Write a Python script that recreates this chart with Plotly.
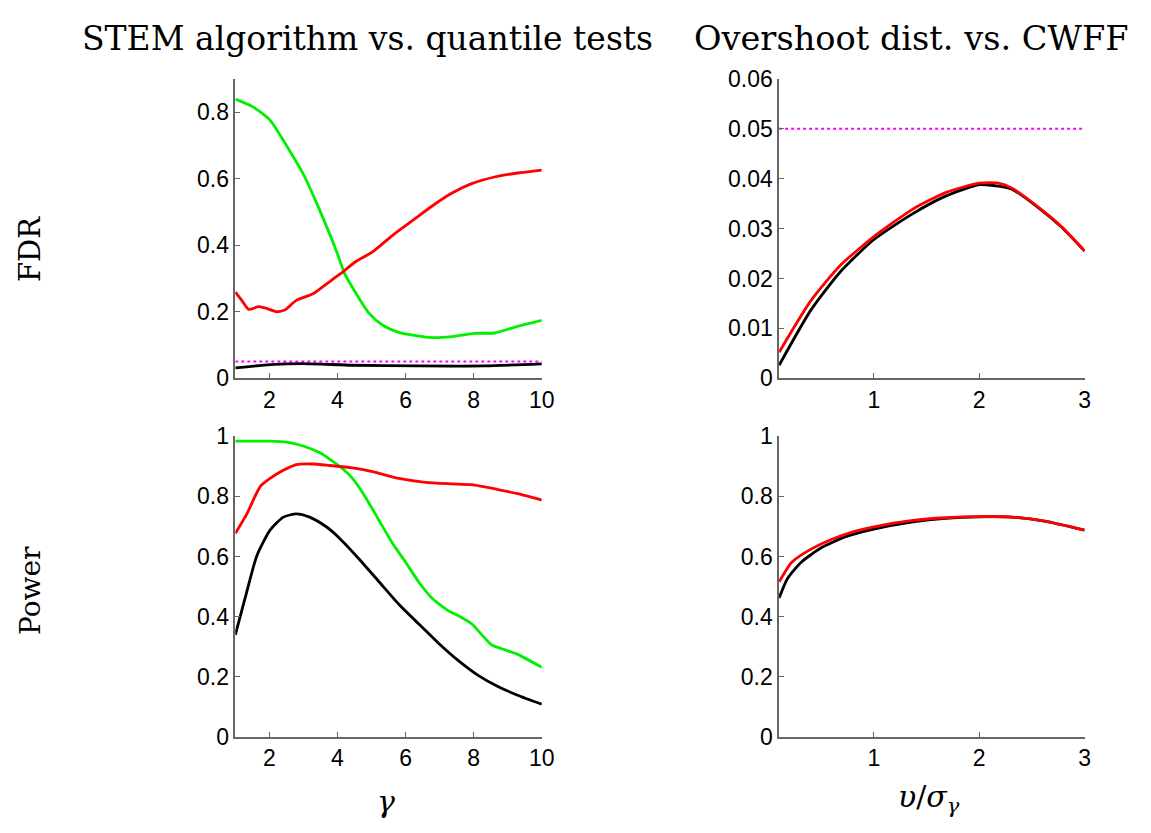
import plotly.graph_objects as go

# ---------------- data ----------------
# Top-left: FDR vs gamma
g_green_fdr = [1.0, 1.53, 2.02, 2.5, 2.99, 3.47, 3.96, 4.2, 4.44, 4.93, 5.32, 5.8, 6.3, 6.77, 7.35, 8.03, 8.61, 9.29, 10.0]
v_green_fdr = [0.839, 0.815, 0.776, 0.70, 0.615, 0.507, 0.385, 0.317, 0.273, 0.195, 0.160, 0.138, 0.128, 0.122, 0.125, 0.135, 0.136, 0.156, 0.174]
g_red_fdr = [1.0, 1.19, 1.39, 1.68, 1.92, 2.21, 2.45, 2.79, 3.28, 3.67, 4.06, 4.54, 5.03, 5.61, 6.19, 6.77, 7.35, 7.94, 8.61, 9.29, 10.0]
v_red_fdr = [0.259, 0.234, 0.207, 0.215, 0.21, 0.2, 0.205, 0.234, 0.254, 0.283, 0.312, 0.351, 0.38, 0.429, 0.473, 0.517, 0.556, 0.585, 0.605, 0.617, 0.626]
g_black_fdr = [1.0, 2.02, 2.99, 4.44, 6.38, 8.32, 10.0]
v_black_fdr = [0.031, 0.041, 0.044, 0.039, 0.037, 0.037, 0.043]
fdr_level = 0.05

# Top-right: FDR vs v/sigma
u_red_fdr = [0.1, 0.4, 0.68, 1.0, 1.37, 1.68, 2.0, 2.18, 2.31, 2.56, 2.78, 3.0]
w_red_fdr = [0.0052, 0.0155, 0.0226, 0.0284, 0.0339, 0.0372, 0.0391, 0.0391, 0.0381, 0.0343, 0.0304, 0.0255]
u_black_fdr = [0.1, 0.4, 0.68, 1.0, 1.37, 1.68, 2.0, 2.18, 2.31, 2.56, 2.78, 3.0]
w_black_fdr = [0.0026, 0.0136, 0.0213, 0.0278, 0.033, 0.0365, 0.0388, 0.0385, 0.0379, 0.0342, 0.0303, 0.0255]

# Bottom-left: Power vs gamma
g_green_pow = [1.0, 2.02, 2.5, 2.99, 3.47, 3.76, 4.15, 4.44, 4.83, 5.22, 5.61, 6.0, 6.38, 6.77, 7.26, 7.55, 7.94, 8.52, 8.9, 9.29, 10.0]
v_green_pow = [0.984, 0.984, 0.981, 0.968, 0.946, 0.925, 0.892, 0.86, 0.796, 0.72, 0.645, 0.581, 0.516, 0.462, 0.419, 0.403, 0.376, 0.306, 0.29, 0.274, 0.231]
g_red_pow = [1.0, 1.34, 1.73, 2.02, 2.41, 2.79, 3.28, 3.76, 4.44, 5.12, 5.8, 6.58, 7.35, 7.94, 8.71, 9.29, 10.0]
v_red_pow = [0.677, 0.742, 0.833, 0.86, 0.887, 0.906, 0.908, 0.903, 0.895, 0.88, 0.86, 0.847, 0.842, 0.839, 0.823, 0.809, 0.788]
g_black_pow = [1.0, 1.34, 1.63, 2.02, 2.41, 2.79, 3.18, 3.67, 4.06, 4.64, 5.22, 5.8, 6.38, 6.96, 7.55, 8.13, 8.71, 9.29, 10.0]
v_black_pow = [0.339, 0.484, 0.602, 0.688, 0.731, 0.742, 0.731, 0.699, 0.661, 0.591, 0.516, 0.441, 0.376, 0.312, 0.253, 0.204, 0.167, 0.138, 0.108]

# Bottom-right: Power vs v/sigma
u_red_pow = [0.1, 0.22, 0.37, 0.59, 0.81, 1.0, 1.37, 1.68, 2.0, 2.31, 2.62, 3.0]
w_red_pow = [0.516, 0.581, 0.618, 0.656, 0.683, 0.699, 0.72, 0.729, 0.733, 0.731, 0.718, 0.688]
u_black_pow = [0.1, 0.18, 0.31, 0.5, 0.74, 1.0, 1.37, 1.68, 2.0, 2.31, 2.62, 3.0]
w_black_pow = [0.462, 0.527, 0.581, 0.629, 0.667, 0.691, 0.715, 0.727, 0.732, 0.731, 0.718, 0.688]

gamma_range = [1, 10]
ratio_range = [0.1, 3]
gamma_ticks = [2, 4, 6, 8, 10]
ratio_ticks = [1, 2, 3]
fdr_left_ticks = [0, 0.2, 0.4, 0.6, 0.8]
fdr_right_ticks = [0, 0.01, 0.02, 0.03, 0.04, 0.05, 0.06]
pow_ticks = [0, 0.2, 0.4, 0.6, 0.8, 1]

titles = ["STEM algorithm vs. quantile tests", "Overshoot dist. vs. CWFF"]
row_labels = ["FDR", "Power"]

# ---------------- figure ----------------
W, H = 1151, 833
GREEN, RED, BLACK, MAG = "#00f000", "#ff0000", "#000000", "#ff00ff"
LW = 2.8

fig = go.Figure()

def line(x, y, color, xa, ya, dash="solid", width=LW):
    fig.add_trace(go.Scatter(x=x, y=y, mode="lines", xaxis=xa, yaxis=ya,
                             line=dict(color=color, width=width, dash=dash, shape="spline", smoothing=0.6),
                             showlegend=False, hoverinfo="skip"))

# top-left (x, y)
line(gamma_range, [fdr_level, fdr_level], MAG, "x", "y", dash="dot", width=2)
line(g_black_fdr, v_black_fdr, BLACK, "x", "y")
line(g_green_fdr, v_green_fdr, GREEN, "x", "y")
line(g_red_fdr, v_red_fdr, RED, "x", "y")
# top-right (x2, y2)
line(ratio_range, [fdr_level, fdr_level], MAG, "x2", "y2", dash="dot", width=2)
line(u_black_fdr, w_black_fdr, BLACK, "x2", "y2")
line(u_red_fdr, w_red_fdr, RED, "x2", "y2")
# bottom-left (x3, y3)
line(g_black_pow, v_black_pow, BLACK, "x3", "y3")
line(g_green_pow, v_green_pow, GREEN, "x3", "y3")
line(g_red_pow, v_red_pow, RED, "x3", "y3")
# bottom-right (x4, y4)
line(u_black_pow, w_black_pow, BLACK, "x4", "y4")
line(u_red_pow, w_red_pow, RED, "x4", "y4")

def px_x(a, b):
    return [a / W, b / W]

def px_y(top, bottom):
    return [1 - bottom / H, 1 - top / H]

xl = px_x(238, 548)
xr = px_x(788, 1097)
yt = px_y(68, 377)
yb = px_y(437, 747)

TICKFONT = dict(family="Liberation Sans, Arial, sans-serif", size=23, color="#000")
axcommon = dict(showline=True, linecolor="#666", linewidth=1.5, ticks="inside",
                ticklen=5, tickcolor="#666", tickwidth=1.2, showgrid=False,
                zeroline=False, tickfont=TICKFONT, fixedrange=True)

fig.update_layout(
    width=W, height=H, autosize=False,
    margin=dict(l=0, r=0, t=0, b=0, pad=0),
    paper_bgcolor="white", plot_bgcolor="white",
    xaxis=dict(domain=xl, anchor="y", range=gamma_range, tickvals=gamma_ticks, **axcommon),
    yaxis=dict(domain=yt, anchor="x", range=[0, 0.9], tickvals=fdr_left_ticks,
               ticktext=[("%g" % v) for v in fdr_left_ticks], **axcommon),
    xaxis2=dict(domain=xr, anchor="y2", range=ratio_range, tickvals=ratio_ticks, **axcommon),
    yaxis2=dict(domain=yt, anchor="x2", range=[0, 0.06], tickvals=fdr_right_ticks,
                ticktext=[("%g" % v) for v in fdr_right_ticks], **axcommon),
    xaxis3=dict(domain=xl, anchor="y3", range=gamma_range, tickvals=gamma_ticks, **axcommon),
    yaxis3=dict(domain=yb, anchor="x3", range=[0, 1], tickvals=pow_ticks,
                ticktext=[("%g" % v) for v in pow_ticks], **axcommon),
    xaxis4=dict(domain=xr, anchor="y4", range=ratio_range, tickvals=ratio_ticks, **axcommon),
    yaxis4=dict(domain=yb, anchor="x4", range=[0, 1], tickvals=pow_ticks,
                ticktext=[("%g" % v) for v in pow_ticks], **axcommon),
)

SERIF = "DejaVu Serif, Liberation Serif, serif"

def label(text, x, y, size, angle=0):
    return dict(text=text, x=x / W, y=1 - y / H, xref="paper", yref="paper",
                showarrow=False, textangle=angle,
                font=dict(family=SERIF, size=size, color="#000"),
                xanchor="center", yanchor="middle")

ann = [
    label(titles[0], 372, 26, 33),
    label(titles[1], 922, 26, 33.6),
    label(row_labels[0], 31, 244, 29, -90),
    label(row_labels[1], 31, 596, 28, -90),
    label("<i>γ</i>", 390, 814, 30),
    label("<i>υ</i>/<i>σ</i><sub><i>γ</i></sub>", 940, 811, 30),
]
fig.update_layout(annotations=ann)

fig.write_html("out.html", post_script="document.body.style.margin='0';document.body.style.overflow='hidden';")
